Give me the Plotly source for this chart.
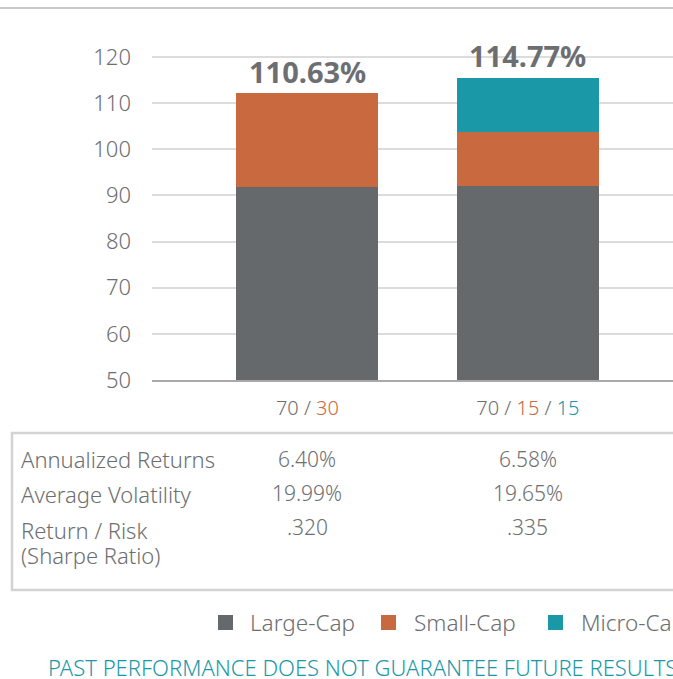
import plotly.graph_objects as go

# ---------------- data ----------------
categories = ["70 / 30", "70 / 15 / 15"]
tick_text = [
    "70 / <span style='color:#c8693f'>30</span>",
    "70 / <span style='color:#c8693f'>15</span> / <span style='color:#1b98a8'>15</span>",
]
series_names = ["Large-Cap", "Small-Cap", "Micro-Cap"]
large_cap = [91.8, 92.0]
small_cap = [20.4, 11.7]
micro_cap = [0.0, 11.8]
total_labels = ["110.63%", "114.77%"]
y_ticks = [50, 60, 70, 80, 90, 100, 110, 120]

row_labels = ["Annualized Returns", "Average Volatility", "Return / Risk<br>(Sharpe Ratio)"]
col_70_30 = ["6.40%", "19.99%", ".320"]
col_70_15_15 = ["6.58%", "19.65%", ".335"]
footer = "PAST PERFORMANCE DOES NOT GUARANTEE FUTURE RESULTS"

# ---------------- style ----------------
GRAY = "#65696c"
ORANGE = "#c8693f"
TEAL = "#1b98a8"
TXT = "#6d6e71"
FONT = "Noto Sans"

W, H = 673, 679
L, R, T, B = 152, 0, 34, 299
PW, PH = W - L - R, H - T - B


def px(x):
    return (x - L) / PW


def py(y):
    return (H - B - y) / PH


def f(size, color=TXT, weight=300):
    return dict(size=size, color=color, family=FONT, weight=weight)


xs = list(range(len(categories)))
totals = [a + b + c for a, b, c in zip(large_cap, small_cap, micro_cap)]

fig = go.Figure()
for name, vals, col in zip(series_names, [large_cap, small_cap, micro_cap], [GRAY, ORANGE, TEAL]):
    fig.add_trace(go.Bar(x=xs, y=vals, name=name, marker=dict(color=col, line=dict(width=0)),
                         width=0.644, showlegend=False, hoverinfo="skip"))

ann = []
for x, t, lab in zip(xs, totals, total_labels):
    ann.append(dict(x=x, y=t, xref="x", yref="y", text=lab, showarrow=False,
                    yanchor="middle", yshift=22, font=f(29, TXT, 700)))

# table
row_y = [459, 494, 530]
LINE_GAP = 25
for lab, y in zip(row_labels, row_y):
    for k, line in enumerate(lab.split("<br>")):
        ann.append(dict(x=px(20), y=py(y + k * LINE_GAP), xref="paper", yref="paper", text=line,
                        showarrow=False, xanchor="left", yanchor="middle", align="left",
                        borderpad=0, font=f(22)))
for x, colvals in zip(xs, [col_70_30, col_70_15_15]):
    for v, y in zip(colvals, [459, 493, 527]):
        ann.append(dict(x=x, y=py(y), xref="x", yref="paper", text=v, showarrow=False,
                        xanchor="center", yanchor="middle", font=f(21)))

# legend (manual)
leg_sq_x = [218, 381, 548]
leg_txt_x = [248, 412, 579]
shapes = []
for name, col, sx, tx in zip(series_names, [GRAY, ORANGE, TEAL], leg_sq_x, leg_txt_x):
    shapes.append(dict(type="rect", xref="paper", yref="paper", x0=px(sx), x1=px(sx + 15),
                       y0=py(630), y1=py(615), fillcolor=col, line=dict(width=0)))
    ann.append(dict(x=px(tx), y=py(622), xref="paper", yref="paper", text=name, showarrow=False,
                    xanchor="left", yanchor="middle", font=f(22.5)))

ann.append(dict(x=px(46), y=py(667), xref="paper", yref="paper", text=footer, showarrow=False,
                xanchor="left", yanchor="middle", font=f(22, TEAL)))

# top rule and table box
shapes.append(dict(type="line", xref="paper", yref="paper", x0=px(0), x1=px(700), y0=py(8), y1=py(8),
                   line=dict(color="#c8c8c8", width=2)))
shapes.append(dict(type="rect", xref="paper", yref="paper", x0=px(12), x1=px(720), y0=py(590), y1=py(433),
                   line=dict(color="#d3d3d3", width=2.5), fillcolor="rgba(0,0,0,0)"))

fig.update_layout(
    barmode="stack",
    width=W, height=H,
    margin=dict(l=L, r=R, t=T, b=B),
    paper_bgcolor="white", plot_bgcolor="white",
    font=dict(family=FONT, color=TXT),
    annotations=ann, shapes=shapes,
    showlegend=False,
    xaxis=dict(range=[-0.705, 1.658], tickvals=xs, ticktext=tick_text, showgrid=False,
               showline=True, linecolor="#a9a9a9", linewidth=2, ticks="",
               tickfont=f(20), ticklabelstandoff=9, zeroline=False),
    yaxis=dict(range=[50, 125], tickvals=y_ticks, showgrid=True, gridcolor="#dcdcdc", gridwidth=1.5,
               zeroline=False, ticks="", ticklabelstandoff=20, tickfont=f(22)),
)

fig.write_html("out.html", config={"displayModeBar": False},
               post_script="document.body.style.margin='0px';document.body.style.overflow='hidden';")
